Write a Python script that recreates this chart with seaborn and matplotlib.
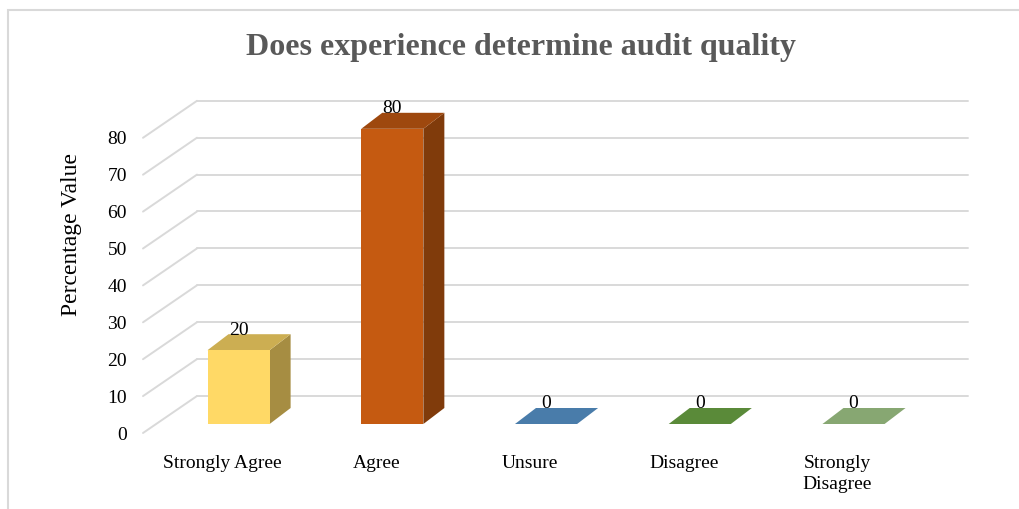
import numpy as np
import pandas as pd
import matplotlib
matplotlib.use("Agg")
import matplotlib.pyplot as plt
from matplotlib.patches import Polygon, Rectangle
from matplotlib.transforms import ScaledTranslation
import matplotlib.colors as mcolors
import seaborn as sns

# Survey responses
categories = ["Strongly Agree", "Agree", "Unsure", "Disagree", "Strongly\nDisagree"]
percentages = [20, 80, 0, 0, 0]
front_colors = ["#FFD966", "#C55A11", "#5B9BD5", "#70AD47", "#A9D18E"]
y_ticks = [0, 10, 20, 30, 40, 50, 60, 70, 80]
title = "Does experience determine audit quality"
y_label = "Percentage Value"

sns.set_theme(style="white")
plt.rcParams["font.family"] = ["Liberation Serif", "DejaVu Serif"]

DPI = 100
W, H = 1020, 509
fig = plt.figure(figsize=(W / DPI, H / DPI), dpi=DPI)
fig.patch.set_facecolor("white")

# Axes placed so that the bar front plane is the data plane
ax_left, ax_right = 156, 927
ax_bottom_px, ax_top_px = 424, 424 - 3.69 * 90
ax = fig.add_axes([ax_left / W, (H - ax_bottom_px) / H,
                   (ax_right - ax_left) / W, (ax_bottom_px - ax_top_px) / H])
ax.set_facecolor("none")

xlim = (-0.537, 4.478)
ylim = (0, 90)
ax.set_xlim(*xlim)
ax.set_ylim(*ylim)

px_x = (ax_right - ax_left) / (xlim[1] - xlim[0])
px_y = (ax_bottom_px - ax_top_px) / (ylim[1] - ylim[0])

def off(dx_px, dy_px):
    return dx_px / px_x, dy_px / px_y

bar_dx, bar_dy = off(21, 16)      # bar depth
wall_dx, wall_dy = off(41, 28)    # back wall relative to bar plane
flr_dx, flr_dy = off(-13, -9)     # front edge relative to bar plane

grid_c = "#D9D9D9"
grid_lw = 1.4
# back wall grid and receding guide lines
for v in y_ticks:
    ax.plot([xlim[0] + wall_dx, xlim[1] + wall_dx], [v + wall_dy, v + wall_dy],
            color=grid_c, lw=grid_lw, clip_on=False, zorder=0)
    ax.plot([xlim[0] + flr_dx, xlim[0] + wall_dx], [v + flr_dy, v + wall_dy],
            color=grid_c, lw=grid_lw, clip_on=False, zorder=0)

df = pd.DataFrame({"category": categories, "value": percentages})
sns.barplot(data=df, x="category", y="value", hue="category",
            palette=front_colors, dodge=False, width=0.404, legend=False,
            ax=ax, saturation=1, linewidth=0, zorder=3)
ax.set_xlim(*xlim)
ax.set_ylim(*ylim)

def shade(c, f):
    r, g, b = mcolors.to_rgb(c)
    return (r * f, g * f, b * f)

for p, col, v in zip(ax.patches, front_colors, percentages):
    x0 = p.get_x()
    x1 = x0 + p.get_width()
    y0 = p.get_y()
    y1 = y0 + p.get_height()
    side = Polygon([(x1, y0), (x1, y1), (x1 + bar_dx, y1 + bar_dy), (x1 + bar_dx, y0 + bar_dy)],
                   closed=True, facecolor=shade(col, 0.65), edgecolor="none", zorder=2, clip_on=False)
    top = Polygon([(x0, y1), (x1, y1), (x1 + bar_dx, y1 + bar_dy), (x0 + bar_dx, y1 + bar_dy)],
                  closed=True, facecolor=shade(col, 0.8), edgecolor="none", zorder=2, clip_on=False)
    ax.add_patch(side)
    ax.add_patch(top)
    ax.text(x0 + p.get_width() / 2, y1 + 20 / px_y, f"{v:g}", ha="center", va="center",
            fontsize=14, color="#000000", zorder=5)

for s in ax.spines.values():
    s.set_visible(False)

ax.set_xlabel("")
ax.set_ylabel("")
ax.set_yticks(y_ticks)
ax.set_yticklabels([str(t) for t in y_ticks])
ax.tick_params(axis="y", length=0, pad=20.9, labelsize=14, labelcolor="#000000")
ax.tick_params(axis="x", length=0, pad=22, labelsize=14, labelcolor="#000000")
for lab in ax.get_yticklabels():
    lab.set_transform(lab.get_transform() + ScaledTranslation(0, -9 / DPI, fig.dpi_scale_trans))
for lab in ax.get_xticklabels():
    lab.set_transform(lab.get_transform() + ScaledTranslation(-16 / DPI, 0, fig.dpi_scale_trans))
    lab.set_multialignment("center")
    lab.set_linespacing(1.35)

fig.text(72 / W, 1 - 235 / H, y_label, rotation=90, ha="center", va="center",
         fontsize=17, color="#000000")
fig.text(521 / W, 1 - 47 / H, title, ha="center", va="center",
         fontsize=23, fontweight="bold", color="#595959")

# chart area border
fig.add_artist(Rectangle((8 / W, -0.2), 1.2, (H - 10) / H + 0.2, transform=fig.transFigure,
                         fill=False, edgecolor="#D9D9D9", lw=1.5))

fig.savefig("out.png", dpi=DPI)
